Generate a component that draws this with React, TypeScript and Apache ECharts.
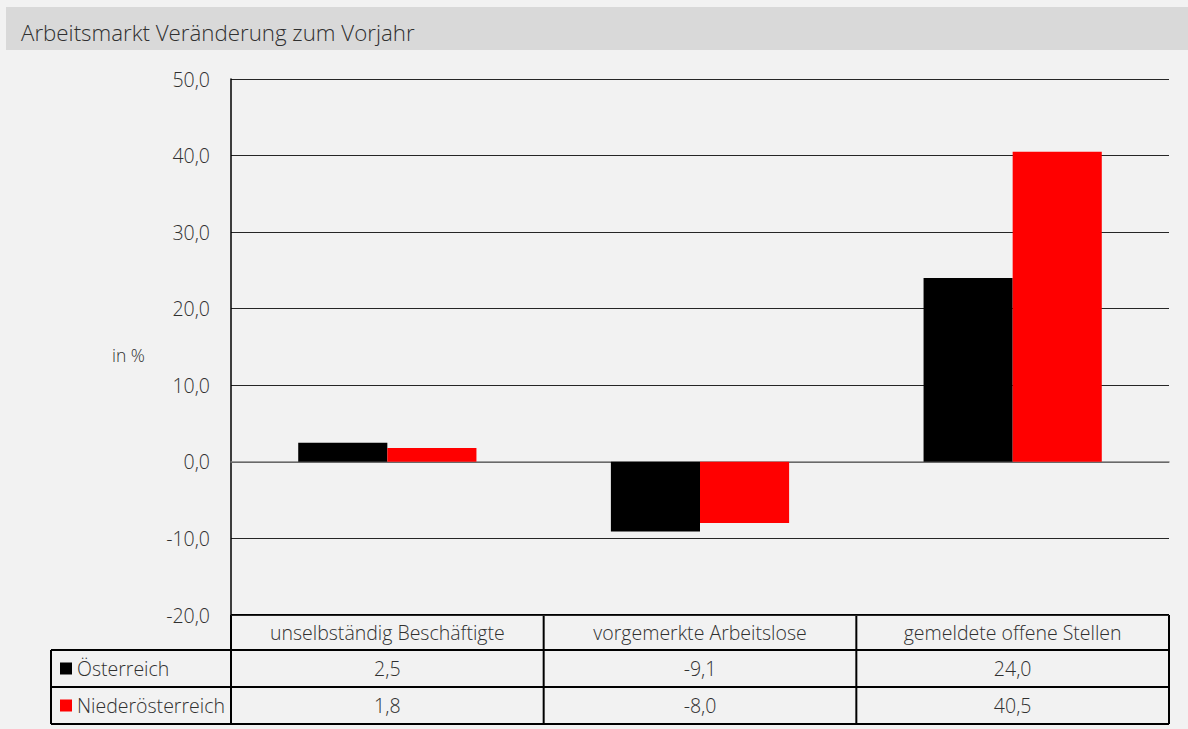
import React, { useEffect, useRef } from "react";
import * as echarts from "echarts";

const categories = ["unselbständig Beschäftigte", "vorgemerkte Arbeitslose", "gemeldete offene Stellen"];
const seriesNames = ["Österreich", "Niederösterreich"];
const oesterreich = [2.5, -9.1, 24.0];
const niederoesterreich = [1.8, -8.0, 40.5];
const seriesColors = ["#000000", "#ff0000"];
const titleText = "Arbeitsmarkt Veränderung zum Vorjahr";
const unitText = "in %";

const fmt = (v: number) => v.toFixed(1).replace(".", ",");

export default function App() {
  const ref = useRef<HTMLDivElement>(null);
  useEffect(() => {
    if (!ref.current) return;
    const chart = echarts.init(ref.current, null, { renderer: "svg" });
    const W = 1188;
    const gl = 231, gr = 1169, gt = 79, gb = 615;
    const rows = [615, 650, 687, 724];
    const legendLeft = 51;
    const font = "'Open Sans', sans-serif";
    const tc = "#303030";
    const fs = 19.5;
    const colW = (gr - gl) / categories.length;
    const lineStyle = { stroke: "#000", lineWidth: 2 };
    const graphics: any[] = [
      { type: "rect", shape: { x: 6, y: 7, width: W - 6, height: 43 }, style: { fill: "#d9d9d9" }, z: 0 },
      { type: "text", x: 21, y: 32, style: { text: titleText, font: `300 22.3px ${font}`, fill: tc, textVerticalAlign: "middle" } },
      { type: "text", x: 112, y: 355, style: { text: unitText, font: `300 17.5px ${font}`, fill: tc, textVerticalAlign: "middle" } },
    ];
    graphics.push({ type: "line", shape: { x1: gl, y1: rows[0], x2: gr, y2: rows[0] }, style: lineStyle });
    for (let i = 1; i < rows.length; i++) {
      graphics.push({ type: "line", shape: { x1: legendLeft, y1: rows[i], x2: gr, y2: rows[i] }, style: lineStyle });
    }
    graphics.push({ type: "line", shape: { x1: legendLeft, y1: rows[1], x2: legendLeft, y2: rows[3] }, style: lineStyle });
    for (let c = 0; c <= categories.length; c++) {
      const x = gl + c * colW;
      graphics.push({ type: "line", shape: { x1: x, y1: rows[0], x2: x, y2: rows[3] }, style: lineStyle });
    }
    categories.forEach((cat, c) => {
      const cx = gl + (c + 0.5) * colW;
      graphics.push({ type: "text", x: cx, y: (rows[0] + rows[1]) / 2, style: { text: cat, font: `300 ${fs}px ${font}`, fill: tc, textAlign: "center", textVerticalAlign: "middle" } });
    });
    const allData = [oesterreich, niederoesterreich];
    allData.forEach((arr, s) => {
      const cy = (rows[s + 1] + rows[s + 2]) / 2;
      graphics.push({ type: "rect", shape: { x: 60, y: cy - 6, width: 12, height: 12 }, style: { fill: seriesColors[s] } });
      graphics.push({ type: "text", x: 77, y: cy, style: { text: seriesNames[s], font: `300 ${fs}px ${font}`, fill: tc, textVerticalAlign: "middle" } });
      arr.forEach((v, c) => {
        const cx = gl + (c + 0.5) * colW;
        graphics.push({ type: "text", x: cx, y: cy, style: { text: fmt(v), font: `300 ${fs}px ${font}`, fill: tc, textAlign: "center", textVerticalAlign: "middle" } });
      });
    });

    chart.setOption({
      animation: false,
      backgroundColor: "#f2f2f2",
      grid: { left: gl, right: W - gr, top: gt, bottom: 729 - gb, containLabel: false },
      xAxis: {
        type: "category",
        data: categories,
        axisLabel: { show: false },
        axisTick: { show: false },
        axisLine: { onZero: true, lineStyle: { color: "#808080", width: 1.5 } },
      },
      yAxis: {
        type: "value",
        min: -20,
        max: 50,
        interval: 10,
        axisLine: { show: true, lineStyle: { color: "#000", width: 1.5 } },
        axisTick: { show: false },
        axisLabel: { formatter: (v: number) => fmt(v), fontFamily: "'Open Sans', sans-serif", fontWeight: 300, fontSize: fs, color: tc, margin: 21 },
        splitLine: { lineStyle: { color: "#262626", width: 1 } },
      },
      series: [
        { name: seriesNames[0], type: "bar", data: oesterreich, barWidth: "28.5%", barGap: "0%", itemStyle: { color: seriesColors[0] } },
        { name: seriesNames[1], type: "bar", data: niederoesterreich, barWidth: "28.5%", barGap: "0%", itemStyle: { color: seriesColors[1] } },
      ],
      graphic: graphics,
    });
    return () => chart.dispose();
  }, []);
  return (
    <div style={{ position: "absolute", left: 0, top: 0, width: 1188, height: 729, background: "#f2f2f2" }}>
      <div ref={ref} style={{ width: 1188, height: 729 }} />
    </div>
  );
}
